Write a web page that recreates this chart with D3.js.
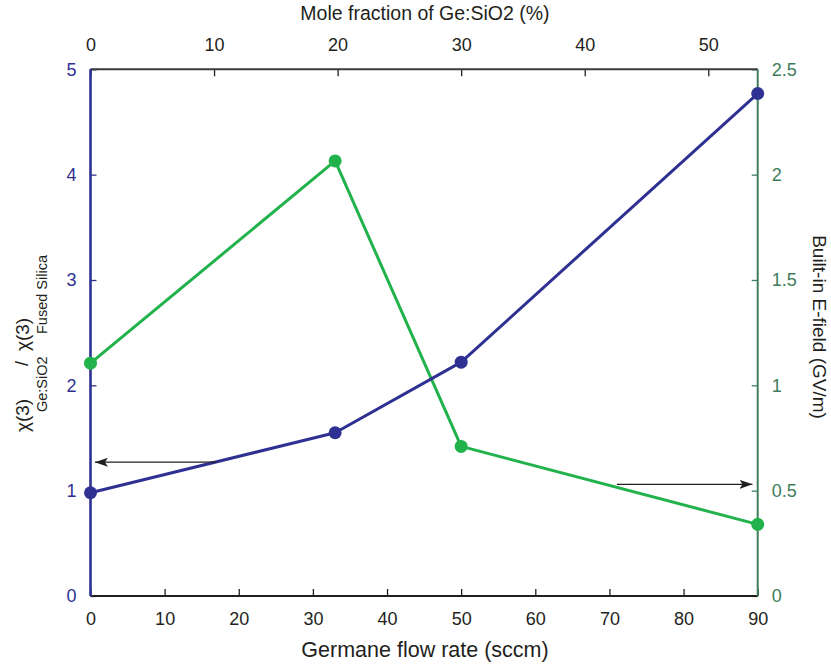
<!DOCTYPE html>
<html>
<head>
<meta charset="utf-8">
<script src="https://cdn.jsdelivr.net/npm/d3@7"></script>
<style>
  html, body { margin: 0; padding: 0; background: #fff; }
  svg { display: block; font-family: "Liberation Sans", Arial, Helvetica, sans-serif; }
</style>
</head>
<body>
<svg id="chart" width="831" height="668"></svg>
<script>
// Germane flow rate (sccm) for each deposited film
const flowRate = [0, 33, 50, 90];
// χ(3) of Ge:SiO2 relative to fused silica (left axis)
const chiRatio = [0.98, 1.55, 2.22, 4.77];
// Built-in E-field in GV/m (right axis)
const eField = [1.105, 2.065, 0.71, 0.34];

// Tick labels
const flowTicks = [0, 10, 20, 30, 40, 50, 60, 70, 80, 90];
const moleTicks = [0, 10, 20, 30, 40, 50];
const chiTicks = [0, 1, 2, 3, 4, 5];
const fieldTicks = [0, 0.5, 1, 1.5, 2, 2.5];

// Arrows pointing each curve to its axis: [from flow, to flow, value, axis]
const arrowFrom = [17, 71];
const arrowTo = [0.6, 89.3];
const arrowValue = [1.27, 0.53];
const arrowAxis = ["left", "right"];

const blue = "#2e3192";
const green = "#22b24c";
const axisGreen = "#3e7d5a";
const ink = "#231f20";

const svg = d3.select("#chart");
const m = { left: 90.5, right: 757.7, top: 69.3, bottom: 596 };

const x = d3.scaleLinear().domain([0, 90]).range([m.left, m.right]);
const xTop = d3.scaleLinear().domain([0, 54]).range([m.left, m.right]);
const yL = d3.scaleLinear().domain([0, 5]).range([m.bottom, m.top]);
const yR = d3.scaleLinear().domain([0, 2.5]).range([m.bottom, m.top]);

// Axes
const gBottom = svg.append("g").attr("transform", `translate(0,${m.bottom})`)
  .call(d3.axisBottom(x).tickValues(flowTicks).tickFormat(d3.format("d"))
    .tickSizeInner(-7).tickSizeOuter(0).tickPadding(16));
const gTop = svg.append("g").attr("transform", `translate(0,${m.top})`)
  .call(d3.axisTop(xTop).tickValues(moleTicks).tickFormat(d3.format("d"))
    .tickSizeInner(-7).tickSizeOuter(0).tickPadding(18));
const gLeft = svg.append("g").attr("transform", `translate(${m.left},0)`)
  .call(d3.axisLeft(yL).tickValues(chiTicks).tickFormat(d3.format("d"))
    .tickSizeInner(-6).tickSizeOuter(0).tickPadding(14));
const gRight = svg.append("g").attr("transform", `translate(${m.right},0)`)
  .call(d3.axisRight(yR).tickValues(fieldTicks).tickFormat(d => d)
    .tickSizeInner(-6).tickSizeOuter(0).tickPadding(14));

[gBottom, gTop, gLeft, gRight].forEach(g => {
  g.attr("font-family", null).attr("font-size", null);
  g.selectAll("text").style("font-size", "18px");
  g.select(".domain").remove();
});
gBottom.selectAll("line").attr("stroke", ink).attr("stroke-width", 1.3);
gBottom.selectAll("text").attr("fill", ink);
gTop.selectAll("line").attr("stroke", ink).attr("stroke-width", 1.3);
gTop.selectAll("text").attr("fill", ink);
gLeft.selectAll("line").attr("stroke", blue).attr("stroke-width", 1.3);
gLeft.selectAll("text").attr("fill", blue);
gRight.selectAll("line").attr("stroke", axisGreen).attr("stroke-width", 1.3);
gRight.selectAll("text").attr("fill", axisGreen);

// Frame lines
svg.append("line").attr("x1", m.left).attr("x2", m.right).attr("y1", m.bottom).attr("y2", m.bottom)
  .attr("stroke", ink).attr("stroke-width", 2);
svg.append("line").attr("x1", m.left).attr("x2", m.right).attr("y1", m.top).attr("y2", m.top)
  .attr("stroke", "#3a3a3a").attr("stroke-width", 2);
svg.append("line").attr("x1", m.right).attr("x2", m.right).attr("y1", m.top).attr("y2", m.bottom)
  .attr("stroke", axisGreen).attr("stroke-width", 2);
svg.append("line").attr("x1", m.left).attr("x2", m.left).attr("y1", m.top).attr("y2", m.bottom)
  .attr("stroke", blue).attr("stroke-width", 2.6);

// Axis titles
svg.append("text").attr("x", 425).attr("y", 20).attr("text-anchor", "middle")
  .attr("fill", ink).style("font-size", "19.5px").text("Mole fraction of Ge:SiO2 (%)");
svg.append("text").attr("x", 425).attr("y", 657).attr("text-anchor", "middle")
  .attr("fill", ink).style("font-size", "21.5px").text("Germane flow rate (sccm)");
svg.append("text").attr("transform", "translate(813,327) rotate(90)").attr("text-anchor", "middle")
  .attr("fill", ink).style("font-size", "19px").text("Built-in E-field (GV/m)");

// Left title: χ(3) Ge:SiO2 / χ(3) Fused Silica, read bottom to top
const leftTitle = [
  { t: "χ(3)", x: 29, y: 432, s: 19 },
  { t: "Ge:SiO2", x: 47, y: 412, s: 14.5 },
  { t: "/", x: 28, y: 366, s: 18 },
  { t: "χ(3)", x: 29, y: 351, s: 19 },
  { t: "Fused Silica", x: 47, y: 334, s: 14.5 }
];
svg.append("g").selectAll("text").data(leftTitle).join("text")
  .attr("transform", d => `translate(${d.x},${d.y}) rotate(-90)`)
  .attr("fill", ink).style("font-size", d => d.s + "px").text(d => d.t);

// Data lines and markers
const pts = (vals, ys) => flowRate.map((f, i) => [x(f), ys(vals[i])]);
const line = d3.line();

svg.append("path").attr("d", line(pts(eField, yR))).attr("fill", "none")
  .attr("stroke", green).attr("stroke-width", 3).attr("stroke-linejoin", "round");
svg.append("path").attr("d", line(pts(chiRatio, yL))).attr("fill", "none")
  .attr("stroke", blue).attr("stroke-width", 3).attr("stroke-linejoin", "round");

svg.append("g").selectAll("circle").data(pts(eField, yR)).join("circle")
  .attr("cx", d => d[0]).attr("cy", d => d[1]).attr("r", 6.5).attr("fill", green);
svg.append("g").selectAll("circle").data(pts(chiRatio, yL)).join("circle")
  .attr("cx", d => d[0]).attr("cy", d => d[1]).attr("r", 6.5).attr("fill", blue);

// Axis-pointing arrows
const defs = svg.append("defs");
defs.append("marker").attr("id", "head").attr("viewBox", "0 0 13 9")
  .attr("refX", 13).attr("refY", 4.5).attr("markerWidth", 13).attr("markerHeight", 9)
  .attr("markerUnits", "userSpaceOnUse").attr("orient", "auto")
  .append("path").attr("d", "M0,0 L13,4.5 L0,9 L3,4.5 Z").attr("fill", ink);

arrowFrom.forEach((f, i) => {
  const ys = arrowAxis[i] === "left" ? yL : yR;
  svg.append("line")
    .attr("x1", x(f)).attr("x2", x(arrowTo[i]))
    .attr("y1", ys(arrowValue[i])).attr("y2", ys(arrowValue[i]))
    .attr("stroke", ink).attr("stroke-width", 1.3).attr("marker-end", "url(#head)");
});
</script>
</body>
</html>
